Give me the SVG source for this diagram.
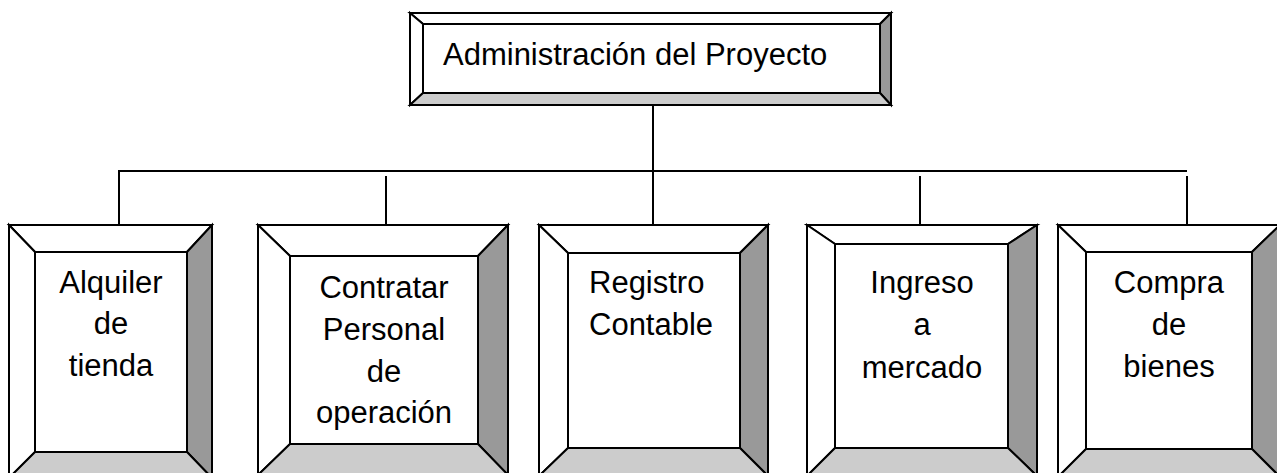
<svg xmlns="http://www.w3.org/2000/svg" width="1277" height="473" viewBox="0 0 1277 473">
<style>
.bv{stroke:#000;stroke-width:2;stroke-linejoin:miter}
.lt{fill:#fff}
.rt{fill:#999}
.bt{fill:#ccc}
.in{fill:#fff;stroke:#000;stroke-width:2}
.t{font-family:"Liberation Sans",Arial,sans-serif;font-size:31px;fill:#000}
.c{text-anchor:middle}
.ln{stroke:#000;stroke-width:2;fill:none}
</style>
<rect width="1277" height="473" fill="#fff"/>
<g id="connectors">
<line class="ln" x1="119" y1="171" x2="1187" y2="171"/>
<line class="ln" x1="653" y1="103" x2="653" y2="235"/>
<line class="ln" x1="119" y1="170" x2="119" y2="230"/>
<line class="ln" x1="386" y1="176" x2="386" y2="234"/>
<line class="ln" x1="920" y1="176" x2="920" y2="234"/>
<line class="ln" x1="1187" y1="176" x2="1187" y2="234"/>
</g>
<g id="top">
<polygon class="bv lt" points="410,13 891,13 880,24 423,24"/>
<polygon class="bv lt" points="410,13 423,24 423,93 410,105"/>
<polygon class="bv rt" points="891,13 891,105 880,93 880,24"/>
<polygon class="bv bt" points="410,105 423,93 880,93 891,105"/>
<rect class="in" x="423" y="24" width="457" height="69"/>
<text class="t" x="443" y="65">Administración del Proyecto</text>
</g>
<g id="alquiler">
<polygon class="bv lt" points="9,225 212,225 187,252 35,252"/>
<polygon class="bv lt" points="9,225 35,252 35,452 9,478"/>
<polygon class="bv rt" points="212,225 212,478 187,452 187,252"/>
<polygon class="bv bt" points="9,478 35,452 187,452 212,478"/>
<rect class="in" x="35" y="252" width="152" height="200"/>
<text class="t c" x="111" y="293">Alquiler</text>
<text class="t c" x="111" y="334">de</text>
<text class="t c" x="111" y="376">tienda</text>
</g>
<g id="contratar">
<polygon class="bv lt" points="258,225 508,225 478,256 290,256"/>
<polygon class="bv lt" points="258,225 290,256 290,444 258,475"/>
<polygon class="bv rt" points="508,225 508,475 478,444 478,256"/>
<polygon class="bv bt" points="258,475 290,444 478,444 508,475"/>
<rect class="in" x="290" y="256" width="188" height="188"/>
<text class="t c" x="384" y="298">Contratar</text>
<text class="t c" x="384" y="340">Personal</text>
<text class="t c" x="384" y="382">de</text>
<text class="t c" x="384" y="423">operación</text>
</g>
<g id="registro">
<polygon class="bv lt" points="539,225 768,225 740,253 568,253"/>
<polygon class="bv lt" points="539,225 568,253 568,448 539,476"/>
<polygon class="bv rt" points="768,225 768,476 740,448 740,253"/>
<polygon class="bv bt" points="539,476 568,448 740,448 768,476"/>
<rect class="in" x="568" y="253" width="172" height="195"/>
<text class="t" x="589" y="293">Registro</text>
<text class="t" x="589" y="335">Contable</text>
</g>
<g id="ingreso">
<polygon class="bv lt" points="807,225 1037,225 1008,244 835,244"/>
<polygon class="bv lt" points="807,225 835,244 835,448 807,476"/>
<polygon class="bv rt" points="1037,225 1037,476 1008,448 1008,244"/>
<polygon class="bv bt" points="807,476 835,448 1008,448 1037,476"/>
<rect class="in" x="835" y="244" width="173" height="204"/>
<text class="t c" x="922" y="293">Ingreso</text>
<text class="t c" x="922" y="335">a</text>
<text class="t c" x="922" y="378">mercado</text>
</g>
<g id="compra">
<polygon class="bv lt" points="1058,225 1280,225 1252,252 1086,252"/>
<polygon class="bv lt" points="1058,225 1086,252 1086,449 1058,477"/>
<polygon class="bv rt" points="1280,225 1280,477 1252,449 1252,252"/>
<polygon class="bv bt" points="1058,477 1086,449 1252,449 1280,477"/>
<rect class="in" x="1086" y="252" width="166" height="197"/>
<text class="t c" x="1169" y="293">Compra</text>
<text class="t c" x="1169" y="335">de</text>
<text class="t c" x="1169" y="377">bienes</text>
</g>
</svg>
